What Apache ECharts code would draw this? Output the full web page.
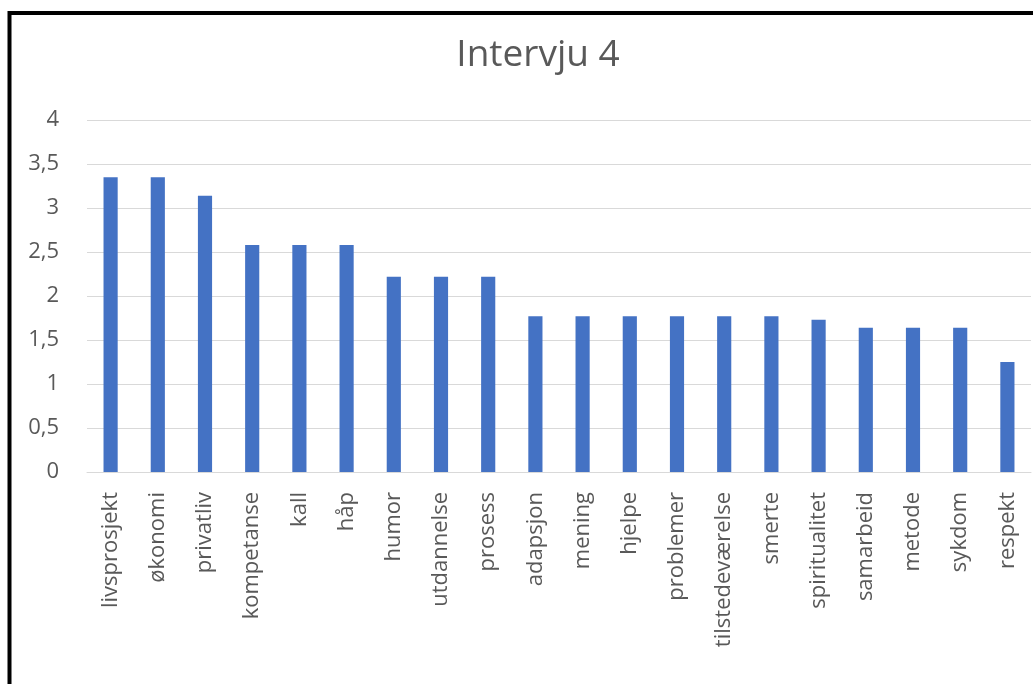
<!DOCTYPE html>
<html lang="no">
<head>
    <meta charset="UTF-8">
    <title>Intervju 4</title>
    <script src="https://cdn.jsdelivr.net/npm/echarts@6/dist/echarts.min.js"></script>
</head>
<body style="margin: 0; background: #fff">
<div id="chart" style="width: 1033px; height: 684px"></div>

<script>
    // kategorier og verdier lest av figuren
    let categories = ['livsprosjekt', 'økonomi', 'privatliv', 'kompetanse', 'kall', 'håp',
        'humor', 'utdannelse', 'prosess', 'adapsjon', 'mening', 'hjelpe', 'problemer',
        'tilstedeværelse', 'smerte', 'spiritualitet', 'samarbeid', 'metode', 'sykdom', 'respekt'];
    let values = [3.35, 3.35, 3.14, 2.58, 2.58, 2.58, 2.22, 2.22, 2.22, 1.77, 1.77, 1.77, 1.77,
        1.77, 1.77, 1.73, 1.64, 1.64, 1.64, 1.25];
    let yTicks = [0, 0.5, 1, 1.5, 2, 2.5, 3, 3.5, 4];

    let txtColor = '#595959';
    let gridColor = '#d9d9d9';
    let font = 'Open Sans';

    let myChart = echarts.init(document.getElementById('chart'));

    let option = {
        animation: false,
        title: {
            text: 'Intervju 4',
            left: 533,
            textAlign: 'center',
            top: 32,
            textStyle: {fontFamily: font, fontSize: 37, fontWeight: 'normal', color: txtColor}
        },
        graphic: [{
            type: 'rect',
            shape: {x: 9.5, y: 13, width: 1100, height: 800},
            style: {fill: 'none', stroke: '#000', lineWidth: 4},
            silent: true
        }],
        grid: {left: 87, right: 2, top: 120, bottom: 212},
        xAxis: {
            type: 'category',
            data: categories,
            axisTick: {show: false},
            axisLine: {lineStyle: {color: gridColor, width: 1}},
            axisLabel: {
                rotate: 90,
                margin: 20,
                interval: 0,
                fontFamily: font,
                fontSize: 22,
                color: txtColor
            }
        },
        yAxis: {
            type: 'value',
            min: yTicks[0],
            max: yTicks[yTicks.length - 1],
            interval: 0.5,
            axisLine: {show: false},
            axisTick: {show: false},
            splitLine: {lineStyle: {color: gridColor, width: 1}},
            axisLabel: {
                margin: 28,
                fontFamily: font,
                fontSize: 22,
                color: txtColor,
                formatter: function (v) {
                    return String(v).replace('.', ',');
                }
            }
        },
        series: [{
            type: 'bar',
            data: values,
            barWidth: '30%',
            itemStyle: {color: '#4472C4'}
        }]
    };
    myChart.setOption(option);
</script>
</body>
</html>
